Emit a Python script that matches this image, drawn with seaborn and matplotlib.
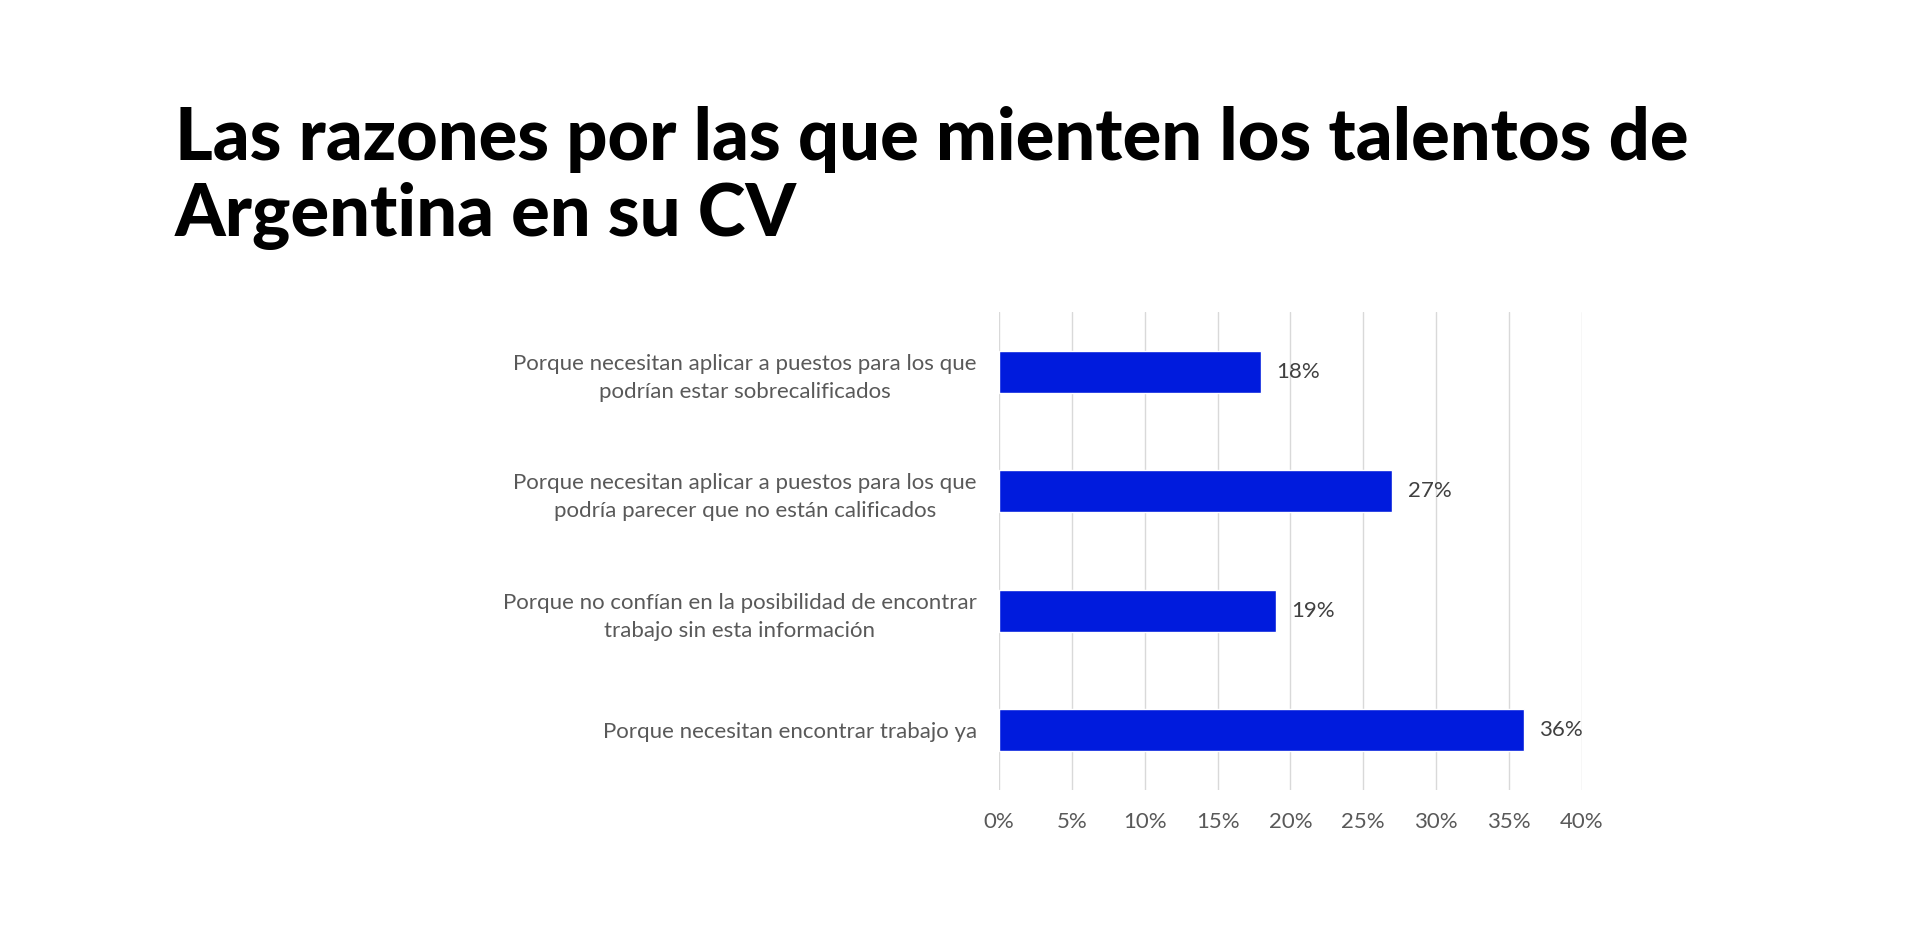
import matplotlib
matplotlib.use("Agg")
import matplotlib.pyplot as plt
import seaborn as sns
import pandas as pd

categories = [
    "Porque necesitan aplicar a puestos para los que\npodrían estar sobrecalificados",
    "Porque necesitan aplicar a puestos para los que\npodría parecer que no están calificados",
    "Porque no confían en la posibilidad de encontrar\ntrabajo sin esta información",
    "Porque necesitan encontrar trabajo ya",
]
values = [18, 27, 19, 36]
xticks = [0, 5, 10, 15, 20, 25, 30, 35, 40]
xtick_labels = ["0%", "5%", "10%", "15%", "20%", "25%", "30%", "35%", "40%"]
title = "Las razones por las que mienten los talentos de\nArgentina en su CV"

sns.set_theme(style="white")
plt.rcParams["font.family"] = ["Lato", "DejaVu Sans"]

df = pd.DataFrame({"razon": categories, "valor": values})

fig = plt.figure(figsize=(19.2, 9.3), dpi=100)
ax = fig.add_axes([0.5203, 0.1505, 0.3036, 0.514])

sns.barplot(data=df, y="razon", x="valor", orient="h", color="#001BDD",
            width=0.35, saturation=1, ax=ax)

ax.set_xlim(0, 40)
ax.set_ylim(3.5, -0.5)
ax.set_xticks(xticks)
ax.set_xticklabels(xtick_labels, fontsize=16, color="#595959")
ax.set_xlabel("")
ax.set_ylabel("")
ax.tick_params(axis="x", length=0, pad=16)
ax.tick_params(axis="y", length=0, pad=16)
for lab in ax.get_yticklabels():
    lab.set_fontsize(16)
    lab.set_color("#595959")
    lab.set_multialignment("center")
    lab.set_linespacing(1.5)

ax.xaxis.grid(True, color="#d9d9d9", linewidth=1)
ax.yaxis.grid(False)
ax.set_axisbelow(True)
for s in ax.spines.values():
    s.set_visible(False)

for c in ax.containers:
    ax.bar_label(c, labels=[f"{v}%" for v in values], padding=11,
                 fontsize=16, color="#404040")

fig.text(175 / 1920, 1 - 236 / 930, title, fontsize=52, fontweight="black",
         color="black", ha="left", va="baseline", linespacing=1.17)

fig.savefig("out.png", dpi=100, facecolor="white")
